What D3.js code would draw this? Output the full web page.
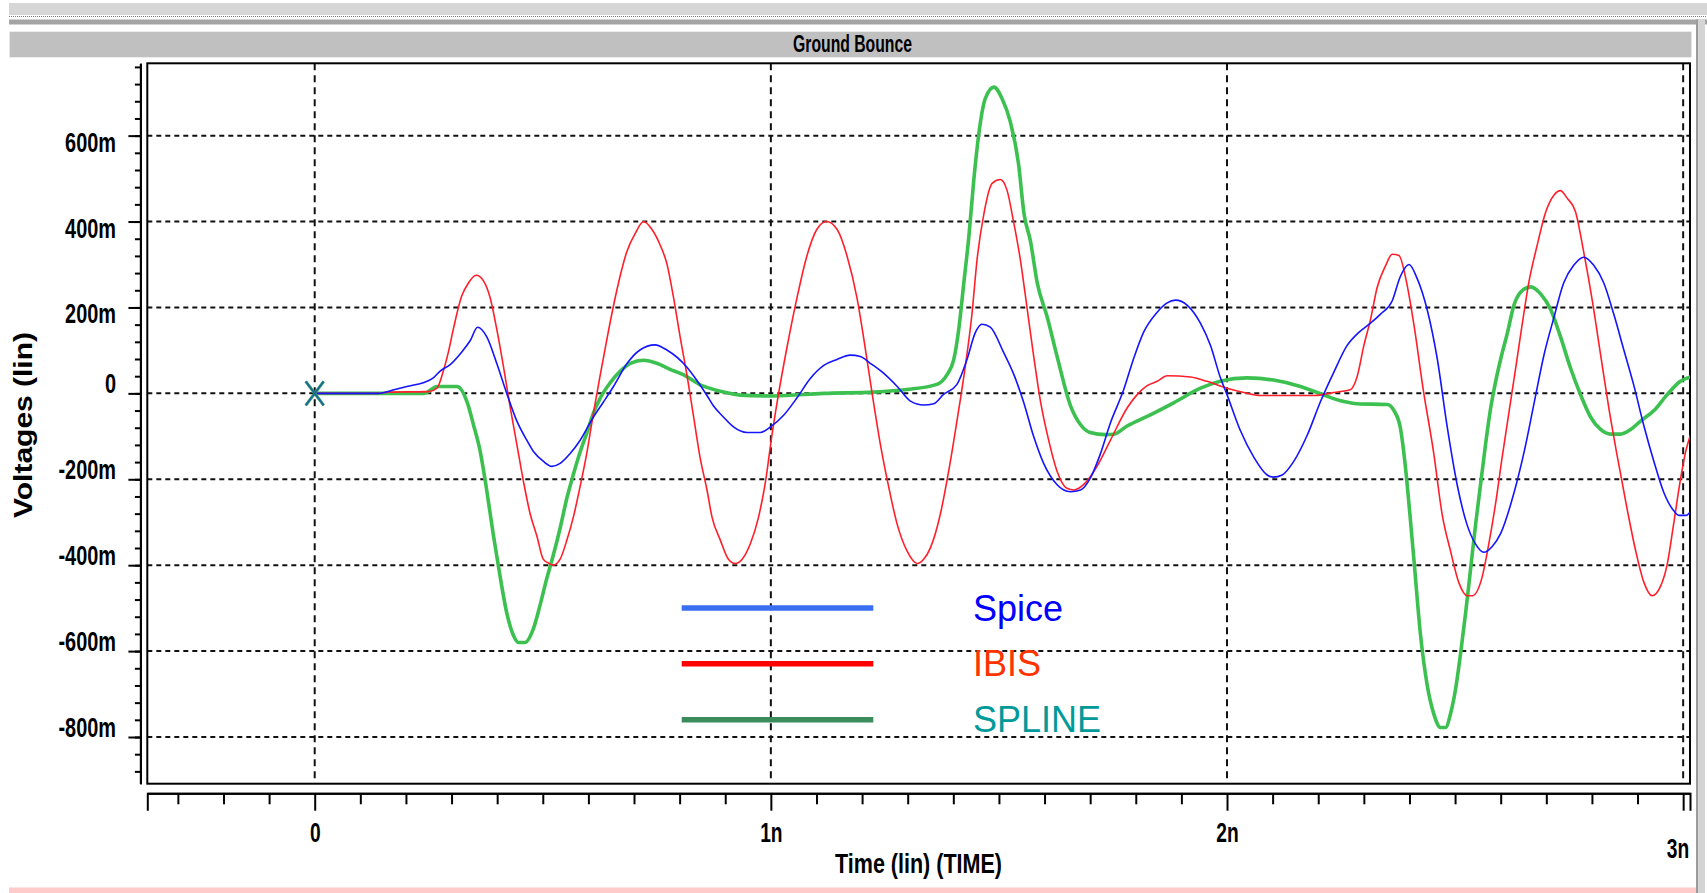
<!DOCTYPE html>
<html>
<head>
<meta charset="utf-8">
<script src="https://d3js.org/d3.v7.min.js"></script>
<style>
  body { margin: 0; background: #fff; }
  .narrow { font-family: "Liberation Sans Narrow", "Arial Narrow", "Liberation Sans", sans-serif; font-weight: bold; }
</style>
</head>
<body>
<div id="chart"></div>
<script>
// waveform samples: [time (ns), voltage (mV)]
var spice = [
  [0,0],[0.14,0],[0.176,9],[0.202,16],[0.238,25],[0.26,36],[0.275,52],[0.297,67],[0.322,96],[0.341,123],
  [0.357,154],[0.377,132],[0.399,70],[0.421,0],[0.443,-64],[0.465,-109],[0.48,-136],[0.501,-158],[0.52,-170],
  [0.538,-163],[0.56,-140],[0.582,-109],[0.611,-55],[0.633,-20],[0.655,16],[0.685,70],[0.713,101],[0.746,113],
  [0.772,101],[0.816,61],[0.838,30],[0.86,-5],[0.874,-29],[0.896,-55],[0.918,-78],[0.948,-91],[0.977,-91],
  [0.999,-78],[1.028,-51],[1.057,-11],[1.086,34],[1.116,65],[1.145,79],[1.174,89],[1.196,86],[1.218,70],
  [1.247,47],[1.277,16],[1.306,-18],[1.335,-27],[1.357,-24],[1.379,-2],[1.408,21],[1.43,79],[1.448,141],
  [1.463,161],[1.481,154],[1.51,96],[1.533,43],[1.554,-20],[1.576,-100],[1.598,-163],[1.627,-212],[1.657,-229],
  [1.679,-225],[1.7,-198],[1.722,-142],[1.744,-70],[1.773,7],[1.795,80],[1.817,142],[1.847,189],[1.868,210],
  [1.887,217],[1.913,205],[1.942,163],[1.964,111],[1.985,38],[2.0,-3],[2.029,-86],[2.059,-149],[2.088,-190],
  [2.102,-195],[2.121,-190],[2.146,-159],[2.176,-97],[2.205,-19],[2.234,49],[2.263,111],[2.289,142],[2.314,163],
  [2.336,184],[2.362,215],[2.38,272],[2.399,300],[2.417,267],[2.439,194],[2.461,80],[2.483,-80],[2.505,-215],
  [2.526,-305],[2.545,-351],[2.563,-370],[2.581,-357],[2.6,-326],[2.629,-232],[2.651,-138],[2.673,-24],[2.695,90],
  [2.716,174],[2.738,257],[2.76,298],[2.782,317],[2.804,298],[2.826,257],[2.848,184],[2.87,101],[2.892,18],
  [2.914,-76],[2.936,-159],[2.958,-232],[2.98,-274],[2.991,-284],[3.006,-284],[3.017,-274]
];

var ibis = [
  [0,0],[0.14,0],[0.16,3],[0.25,4],[0.268,12],[0.282,52],[0.293,96],[0.304,150],[0.322,226],[0.337,257],
  [0.354,275],[0.37,262],[0.385,221],[0.399,150],[0.414,61],[0.428,-29],[0.443,-118],[0.458,-207],[0.472,-279],
  [0.487,-332],[0.501,-386],[0.512,-395],[0.523,-400],[0.538,-386],[0.553,-341],[0.567,-288],[0.582,-216],
  [0.597,-136],[0.611,-46],[0.626,43],[0.64,123],[0.655,204],[0.67,275],[0.684,329],[0.703,373],[0.721,400],
  [0.739,382],[0.757,346],[0.772,302],[0.787,221],[0.801,132],[0.816,43],[0.83,-50],[0.845,-150],[0.86,-225],
  [0.871,-288],[0.889,-341],[0.907,-386],[0.922,-396],[0.937,-386],[0.955,-350],[0.973,-288],[0.988,-207],
  [1.002,-100],[1.017,0],[1.035,105],[1.057,221],[1.079,320],[1.101,382],[1.122,400],[1.145,382],[1.167,320],
  [1.189,221],[1.203,132],[1.222,0],[1.24,-118],[1.258,-216],[1.277,-305],[1.299,-368],[1.321,-396],[1.335,-386],
  [1.35,-359],[1.372,-279],[1.39,-180],[1.408,-64],[1.426,61],[1.441,186],[1.452,311],[1.467,418],[1.485,489],
  [1.503,498],[1.518,472],[1.532,400],[1.547,311],[1.561,204],[1.576,88],[1.591,-18],[1.609,-109],[1.627,-180],
  [1.649,-221],[1.664,-225],[1.686,-212],[1.715,-170],[1.744,-110],[1.781,-34],[1.803,-3],[1.825,18],[1.847,28],
  [1.869,41],[1.92,38],[1.956,28],[2.0,12],[2.037,2],[2.073,-5],[2.19,-5],[2.234,2],[2.271,9],[2.285,38],
  [2.3,111],[2.315,174],[2.329,246],[2.348,298],[2.362,324],[2.377,321],[2.393,262],[2.41,158],[2.43,10],
  [2.453,-138],[2.472,-284],[2.49,-367],[2.508,-440],[2.527,-471],[2.538,-471],[2.559,-429],[2.574,-350],
  [2.589,-255],[2.603,-150],[2.618,-45],[2.633,60],[2.647,160],[2.662,260],[2.68,345],[2.698,420],[2.717,462],
  [2.731,472],[2.746,454],[2.764,423],[2.782,329],[2.801,215],[2.819,90],[2.837,-34],[2.856,-149],[2.878,-274],
  [2.896,-367],[2.914,-440],[2.932,-471],[2.95,-450],[2.965,-398],[2.979,-305],[2.994,-201],[3.005,-138],[3.016,-97]
];

var spline = [
  [0,0],[0.24,0],[0.268,16],[0.312,16],[0.334,-20],[0.348,-73],[0.363,-136],[0.377,-225],[0.392,-332],
  [0.407,-430],[0.421,-511],[0.436,-564],[0.447,-580],[0.461,-580],[0.48,-546],[0.494,-493],[0.509,-430],
  [0.523,-377],[0.538,-314],[0.553,-243],[0.567,-189],[0.582,-136],[0.597,-91],[0.611,-46],[0.626,-11],
  [0.648,25],[0.67,52],[0.692,70],[0.721,77],[0.75,70],[0.779,56],[0.809,43],[0.845,20],[0.86,14],[0.896,3],
  [0.933,-4],[1.006,-6],[1.116,0],[1.225,3],[1.298,9],[1.364,21],[1.386,43],[1.401,79],[1.412,150],[1.423,257],
  [1.434,364],[1.445,498],[1.456,605],[1.47,686],[1.489,713],[1.507,686],[1.525,632],[1.543,534],[1.555,418],
  [1.569,355],[1.584,257],[1.606,177],[1.627,88],[1.657,-29],[1.679,-73],[1.7,-91],[1.733,-96],[1.752,-95],
  [1.781,-76],[1.832,-50],[1.883,-22],[1.942,12],[1.985,28],[2.044,36],[2.102,31],[2.161,16],[2.205,-1],
  [2.256,-19],[2.285,-24],[2.351,-26],[2.366,-40],[2.38,-80],[2.391,-170],[2.4,-270],[2.41,-390],[2.424,-560],
  [2.439,-680],[2.453,-745],[2.468,-778],[2.479,-778],[2.49,-746],[2.501,-689],[2.512,-606],[2.523,-512],
  [2.534,-409],[2.545,-305],[2.556,-211],[2.567,-117],[2.578,-34],[2.589,28],[2.6,80],[2.615,142],[2.629,205],
  [2.644,236],[2.666,248],[2.688,231],[2.71,194],[2.731,132],[2.753,59],[2.775,-3],[2.797,-55],[2.819,-84],
  [2.841,-95],[2.863,-95],[2.885,-84],[2.906,-65],[2.936,-40],[2.965,-3],[2.994,28],[3.016,38]
];

// axis ticks
var yMajor = [-800, -600, -400, -200, 0, 200, 400, 600];
var xMajor = [0, 1, 2, 3];
var xLabels = ["0", "1n", "2n", "3n"];

// legend
var legendNames = ["Spice", "IBIS", "SPLINE"];
var legendLineColors = ["#3a6ef2", "#ff0000", "#3a8c5c"];
var legendTextColors = ["#0000ff", "#ff3300", "#009a9a"];

var width = 1707, height = 893;
var plot = {left: 147.3, right: 1690, top: 63.3, bottom: 783.7};

var x = d3.scaleLinear().domain([-0.367, 3.015]).range([plot.left, plot.right]);
var y = d3.scaleLinear().domain([-908.7, 768.4]).range([plot.bottom, plot.top]);

var svg = d3.select("#chart").append("svg")
    .attr("width", width)
    .attr("height", height);

// window chrome round the plot
svg.append("rect").attr("x", 9).attr("y", 3).attr("width", 1698).attr("height", 12).attr("fill", "#d6d6d6");
svg.append("line").attr("x1", 9).attr("x2", 1707).attr("y1", 16.5).attr("y2", 16.5)
    .attr("stroke", "#7a7a7a").attr("stroke-dasharray", "1,1");
svg.append("rect").attr("x", 9).attr("y", 19.5).attr("width", 1698).attr("height", 5).attr("fill", "#a4a4a4");
svg.append("rect").attr("x", 1696).attr("y", 19.5).attr("width", 9).attr("height", 874).attr("fill", "#d4d4d4");
svg.append("line").attr("x1", 1697).attr("x2", 1697).attr("y1", 19.5).attr("y2", 893)
    .attr("stroke", "#8a8a8a").attr("stroke-width", 1.5);
svg.append("rect").attr("x", 9.6).attr("y", 31.7).attr("width", 1681.8).attr("height", 25.6).attr("fill", "#c0c0c0");
svg.append("rect").attr("x", 9).attr("y", 887.5).attr("width", 1687).attr("height", 5.5).attr("fill", "#ffcaca");

svg.append("text")
    .attr("class", "narrow")
    .attr("transform", "translate(852.5,52) scale(1,1.18)")
    .attr("text-anchor", "middle")
    .attr("textLength", 119)
    .attr("lengthAdjust", "spacingAndGlyphs")
    .style("font-size", "20px")
    .text("Ground Bounce");

// grid
var grid = svg.append("g");
grid.selectAll(".hgrid")
    .data(yMajor)
    .enter().append("line")
    .attr("x1", plot.left).attr("x2", plot.right)
    .attr("y1", function(d) { return y(d); })
    .attr("y2", function(d) { return y(d); })
    .attr("stroke", "#111").attr("stroke-width", 2).attr("stroke-dasharray", "5,4");
grid.selectAll(".vgrid")
    .data(xMajor)
    .enter().append("line")
    .attr("x1", function(d) { return x(d); })
    .attr("x2", function(d) { return x(d); })
    .attr("y1", plot.top).attr("y2", plot.bottom)
    .attr("stroke", "#111").attr("stroke-width", 2).attr("stroke-dasharray", "7,5");

// plot frame
svg.append("rect")
    .attr("x", plot.left).attr("y", plot.top)
    .attr("width", plot.right - plot.left).attr("height", plot.bottom - plot.top)
    .attr("fill", "none").attr("stroke", "#000").attr("stroke-width", 2);

// waveforms
svg.append("clipPath").attr("id", "clip")
  .append("rect")
    .attr("x", plot.left).attr("y", plot.top)
    .attr("width", plot.right - plot.left).attr("height", plot.bottom - plot.top);

var line = d3.line()
    .x(function(d) { return x(d[0]); })
    .y(function(d) { return y(d[1]); })
    .curve(d3.curveMonotoneX);

var curves = svg.append("g").attr("clip-path", "url(#clip)");
curves.append("path").datum(spline).attr("d", line)
    .attr("fill", "none").attr("stroke", "#3cc050").attr("stroke-width", 3.6).attr("stroke-linejoin", "round");
curves.append("path").datum(ibis).attr("d", line)
    .attr("fill", "none").attr("stroke", "#ff1f2a").attr("stroke-width", 1.6);
curves.append("path").datum(spice).attr("d", line)
    .attr("fill", "none").attr("stroke", "#1414ff").attr("stroke-width", 1.6);

// start marker
var mk = svg.append("g").attr("transform", "translate(" + x(0) + "," + y(0) + ")");
mk.append("path").attr("d", "M-9,-12L9,12M-9,12L9,-12")
    .attr("stroke", "#2f9a6a").attr("stroke-width", 3);
mk.append("path").attr("d", "M-9,-12L9,12M-9,12L9,-12")
    .attr("stroke", "#1f5fa0").attr("stroke-width", 1.4);

// y axis
var yAxisG = svg.append("g").attr("transform", "translate(140.4,0)");
yAxisG.append("g")
    .call(d3.axisLeft(y).tickValues(d3.range(-880, 761, 40)).tickSize(5.5).tickSizeOuter(0).tickFormat(""));
yAxisG.append("g")
    .call(d3.axisLeft(y).tickValues(yMajor).tickSize(12).tickSizeOuter(0)
        .tickFormat(function(d) { return d === 0 ? "0" : d + "m"; }));
yAxisG.selectAll("path, line").attr("stroke", "#000").attr("stroke-width", 2);
yAxisG.selectAll("text")
    .attr("class", "narrow")
    .attr("x", null).attr("y", null).attr("dy", null)
    .attr("transform", function(d) { return "translate(-24.4," + (d > 0 ? 15.5 : -0.8) + ") scale(0.83,1.18)"; })
    .style("font-size", "24px")
    .attr("fill", "#000");

// x axis
var xAxisG = svg.append("g").attr("transform", "translate(0,793.3)");
xAxisG.append("g")
    .call(d3.axisBottom(x).tickValues(d3.range(-3, 31).filter(function(i) { return i % 10 !== 0; })
        .map(function(i) { return i / 10; })).tickSize(11).tickSizeOuter(0).tickFormat(""));
xAxisG.append("g")
    .call(d3.axisBottom(x).tickValues(xMajor).tickSize(17.4).tickSizeOuter(17.4)
        .tickFormat(function(d, i) { return xLabels[i]; }));
xAxisG.selectAll("path, line").attr("stroke", "#000").attr("stroke-width", 2);
xAxisG.selectAll("text")
    .attr("class", "narrow")
    .attr("x", null).attr("y", null).attr("dy", null)
    .attr("transform", function(d) { return d === 3 ? "translate(-5.6,64.7) scale(0.8,1.18)" : "translate(0,48.4) scale(0.8,1.18)"; })
    .style("font-size", "24px")
    .attr("fill", "#000");

// axis titles
svg.append("text")
    .attr("class", "narrow")
    .attr("transform", "translate(918.5,873) scale(1,1.18)")
    .attr("text-anchor", "middle")
    .attr("textLength", 167)
    .attr("lengthAdjust", "spacingAndGlyphs")
    .style("font-size", "23px")
    .text("Time (lin) (TIME)");

svg.append("text")
    .attr("transform", "translate(32,425) rotate(-90)")
    .attr("text-anchor", "middle")
    .attr("textLength", 186)
    .attr("lengthAdjust", "spacingAndGlyphs")
    .style("font-family", "'Liberation Sans', Arial, sans-serif")
    .style("font-weight", "bold")
    .style("font-size", "25px")
    .text("Voltages (lin)");

// legend
var legendY = [608, 663.7, 719.7];
var legend = svg.selectAll(".legend")
    .data(legendNames)
    .enter().append("g");
legend.append("line")
    .attr("x1", 681.7).attr("x2", 873.3)
    .attr("y1", function(d, i) { return legendY[i]; })
    .attr("y2", function(d, i) { return legendY[i]; })
    .attr("stroke", function(d, i) { return legendLineColors[i]; })
    .attr("stroke-width", 5.5);
legend.append("text")
    .attr("x", 973)
    .attr("y", function(d, i) { return legendY[i] + 12.5; })
    .style("font-family", "'Liberation Sans', Arial, sans-serif")
    .style("font-size", "36px")
    .attr("fill", function(d, i) { return legendTextColors[i]; })
    .text(function(d) { return d; });
</script>
</body>
</html>
